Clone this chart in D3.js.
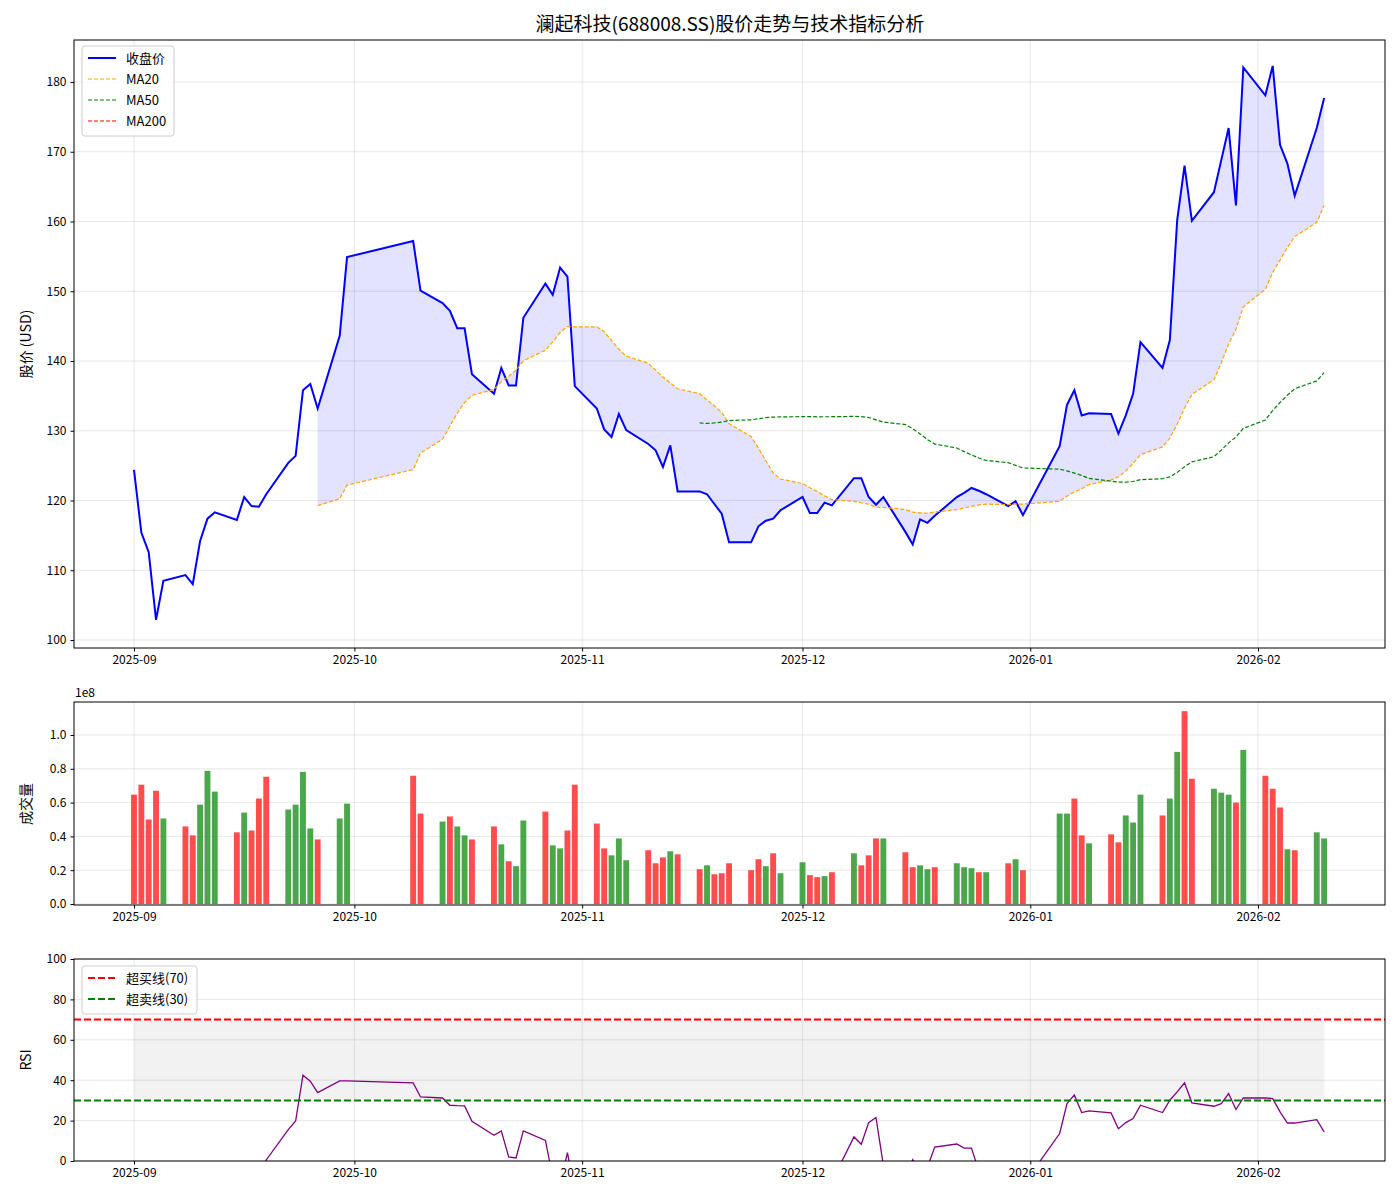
<!DOCTYPE html>
<html>
<head>
<meta charset="utf-8">
<script src="https://cdn.jsdelivr.net/npm/d3@7"></script>
<style>
  body { margin: 0; background: #fff; }
  text { font-family: "Noto Sans CJK SC", "DejaVu Sans", sans-serif; }
</style>
</head>
<body>
<svg id="chart" width="1400" height="1200"></svg>
<script>
// trading days (Sep 1 2025 - Feb 10 2026)
const dates = [
  "2025-09-01","2025-09-02","2025-09-03","2025-09-04","2025-09-05",
  "2025-09-08","2025-09-09","2025-09-10","2025-09-11","2025-09-12",
  "2025-09-15","2025-09-16","2025-09-17","2025-09-18","2025-09-19",
  "2025-09-22","2025-09-23","2025-09-24","2025-09-25","2025-09-26",
  "2025-09-29","2025-09-30",
  "2025-10-09","2025-10-10",
  "2025-10-13","2025-10-14","2025-10-15","2025-10-16","2025-10-17",
  "2025-10-20","2025-10-21","2025-10-22","2025-10-23","2025-10-24",
  "2025-10-27","2025-10-28","2025-10-29","2025-10-30","2025-10-31",
  "2025-11-03","2025-11-04","2025-11-05","2025-11-06","2025-11-07",
  "2025-11-10","2025-11-11","2025-11-12","2025-11-13","2025-11-14",
  "2025-11-17","2025-11-18","2025-11-19","2025-11-20","2025-11-21",
  "2025-11-24","2025-11-25","2025-11-26","2025-11-27","2025-11-28",
  "2025-12-01","2025-12-02","2025-12-03","2025-12-04","2025-12-05",
  "2025-12-08","2025-12-09","2025-12-10","2025-12-11","2025-12-12",
  "2025-12-15","2025-12-16","2025-12-17","2025-12-18","2025-12-19",
  "2025-12-22","2025-12-23","2025-12-24","2025-12-25","2025-12-26",
  "2025-12-29","2025-12-30","2025-12-31",
  "2026-01-05","2026-01-06","2026-01-07","2026-01-08","2026-01-09",
  "2026-01-12","2026-01-13","2026-01-14","2026-01-15","2026-01-16",
  "2026-01-19","2026-01-20","2026-01-21","2026-01-22","2026-01-23",
  "2026-01-26","2026-01-27","2026-01-28","2026-01-29","2026-01-30",
  "2026-02-02","2026-02-03","2026-02-04","2026-02-05","2026-02-06",
  "2026-02-09","2026-02-10"
];

const closes = [
  124.4,115.4,112.6,102.9,108.5,
  109.3,108.0,114.2,117.4,118.3,
  117.2,120.5,119.2,119.1,120.9,
  125.4,126.4,135.8,136.7,133.2,
  143.6,154.9,
  157.2,150.1,
  148.3,147.2,144.7,144.7,138.1,
  135.3,139.0,136.5,136.5,146.2,
  151.1,149.5,153.4,152.1,136.4,
  133.2,130.2,129.1,132.4,130.1,
  128.1,127.2,124.8,127.9,121.3,
  121.3,120.9,119.5,118.1,114.0,
  114.0,116.3,117.1,117.4,118.6,
  120.5,118.2,118.2,119.7,119.3,
  123.2,123.2,120.5,119.4,120.5,
  115.5,113.7,117.3,116.8,117.8,
  120.5,121.1,121.8,121.4,120.9,
  119.2,119.9,117.9,
  127.8,133.7,135.8,132.2,132.5,
  132.4,129.6,132.2,135.3,142.7,
  139.0,143.0,160.2,168.0,160.1,
  164.2,168.8,173.4,162.3,182.1,
  178.1,182.3,171.0,168.3,163.7,
  173.4,177.7
];

// volume in units of 1e8
const volumes = [
  0.647,0.706,0.500,0.670,0.506,
  0.459,0.406,0.588,0.788,0.665,
  0.424,0.541,0.435,0.624,0.753,
  0.559,0.588,0.782,0.447,0.382,
  0.506,0.594,
  0.759,0.535,
  0.488,0.518,0.459,0.406,0.382,
  0.459,0.353,0.253,0.224,0.494,
  0.547,0.347,0.329,0.435,0.706,
  0.476,0.329,0.288,0.388,0.259,
  0.318,0.241,0.276,0.312,0.294,
  0.206,0.229,0.176,0.182,0.241,
  0.200,0.265,0.224,0.300,0.182,
  0.247,0.171,0.159,0.165,0.188,
  0.300,0.229,0.288,0.388,0.388,
  0.306,0.218,0.229,0.206,0.218,
  0.241,0.218,0.212,0.188,0.188,
  0.241,0.265,0.200,
  0.535,0.535,0.624,0.406,0.359,
  0.412,0.365,0.524,0.482,0.647,
  0.524,0.624,0.900,1.141,0.741,
  0.682,0.659,0.647,0.600,0.912,
  0.759,0.682,0.571,0.324,0.318,
  0.424,0.388
];

// 1 = red bar, 0 = green bar
const volUp = [
  1,1,1,1,0, 1,1,0,0,0, 1,0,1,1,1, 0,0,0,0,1, 0,0,
  1,1, 0,1,0,0,1, 1,0,1,0,0, 1,0,0,1,1,
  1,1,0,0,0, 1,1,1,0,1, 1,0,1,1,1, 1,1,0,1,0,
  0,1,1,0,1, 0,1,1,1,0, 1,1,0,0,1, 0,0,0,1,0, 1,0,1,
  0,0,1,1,0, 1,1,0,0,0, 1,0,0,1,1, 0,0,0,1,0,
  1,1,1,0,1, 0,0
];

const rsi = [
  null,null,null,null,null, null,null,null,null,null,
  null,null,null,-10,0.5,
  15.5,19.8,42.5,39.5,33.9,
  39.7,39.7,
  38.7,31.7,
  31.2,27.6,27.4,27.3,19.7,
  12.7,14.9,2.0,1.5,14.9,
  10.2,-8,-12,4.1,-15,
  -20,-25,-28,-22,-26,
  -24,-27,-30,-25,-35,
  -35,-33,-36,-38,-45,
  -45,-40,-35,-30,-25,
  -18,-25,-22,-15,-10,
  11.9,8.3,19.0,21.5,-2,
  -8,0.7,-5,-3,6.9,
  8.4,6.4,6.4,-5,-12,
  -10,-6,-12,
  13.6,28.4,32.7,24.0,24.8,
  23.8,16.0,19.0,21.0,27.6,
  24.0,30.1,34.2,38.7,28.8,
  27.1,28.4,33.4,25.5,31.2,
  31.2,30.9,24.3,18.8,18.8,
  20.5,14.4
];

const priceTicks = [100, 110, 120, 130, 140, 150, 160, 170, 180];
const volTicks = [0, 0.2, 0.4, 0.6, 0.8, 1.0];
const rsiTicks = [0, 20, 40, 60, 80, 100];

const parse = d3.timeParse("%Y-%m-%d");
const rows = dates.map((d, i) => ({
  date: parse(d), close: closes[i], vol: volumes[i], up: volUp[i], rsi: rsi[i]
}));

const rolling = (n) => rows.map((r, i) =>
  i < n - 1 ? null : d3.mean(rows.slice(i - n + 1, i + 1), d => d.close));
const ma20 = rolling(20), ma50 = rolling(50);
rows.forEach((r, i) => { r.ma20 = ma20[i]; r.ma50 = ma50[i]; });

const svg = d3.select("#chart");
const L = 74, R = 1385;

const x = d3.scaleTime()
  .domain([parse("2025-09-01"), parse("2026-02-01")])
  .range([134, 1258]);
x.domain([x.invert(L), x.invert(R)]).range([L, R]);
const dayW = x(parse("2025-09-02")) - x(parse("2025-09-01"));

const panels = [
  { top: 40, bottom: 648 },
  { top: 702, bottom: 905 },
  { top: 959, bottom: 1161 }
];

const yP = d3.scaleLinear().domain([100, 180]).range([640, 82]);
yP.domain([yP.invert(648), yP.invert(40)]).range([648, 40]);
const yV = d3.scaleLinear().domain([0, 1]).range([904, 735]);
yV.domain([yV.invert(905), yV.invert(702)]).range([905, 702]);
const yR = d3.scaleLinear().domain([0, 100]).range([1161, 959]);

const xTicks = d3.timeMonth.range(parse("2025-09-01"), parse("2026-02-02"));

function frame(p, y, ticks, fmt, i) {
  const g = svg.append("g");
  g.selectAll(".gx").data(xTicks).join("line")
    .attr("x1", d => x(d)).attr("x2", d => x(d))
    .attr("y1", p.top).attr("y2", p.bottom)
    .attr("stroke", "#b0b0b0").attr("stroke-opacity", 0.3);
  g.selectAll(".gy").data(ticks).join("line")
    .attr("x1", L).attr("x2", R)
    .attr("y1", d => y(d)).attr("y2", d => y(d))
    .attr("stroke", "#b0b0b0").attr("stroke-opacity", 0.3);
  svg.append("defs").append("clipPath").attr("id", "clip" + i)
    .append("rect").attr("x", L).attr("y", p.top)
    .attr("width", R - L).attr("height", p.bottom - p.top);
}

function axes(p, y, ticks, fmt) {
  const gx = svg.append("g").attr("transform", `translate(0,${p.bottom})`)
    .call(d3.axisBottom(x).tickValues(xTicks).tickFormat(d3.timeFormat("%Y-%m")).tickSizeOuter(0).tickSize(3.5).tickPadding(4));
  const gy = svg.append("g").attr("transform", `translate(${L},0)`)
    .call(d3.axisLeft(y).tickValues(ticks).tickFormat(fmt).tickSizeOuter(0).tickSize(3.5).tickPadding(4));
  [gx, gy].forEach(g => {
    g.select(".domain").remove();
    g.selectAll("text").attr("font-size", 12).attr("fill", "#000");
  });
  svg.append("rect").attr("x", L).attr("y", p.top)
    .attr("width", R - L).attr("height", p.bottom - p.top)
    .attr("fill", "none").attr("stroke", "#000").attr("stroke-width", 1);
}

// ---- price panel
frame(panels[0], yP, priceTicks, null, 0);
const gp = svg.append("g").attr("clip-path", "url(#clip0)");
gp.append("path").datum(rows.filter(r => r.ma20 != null))
  .attr("d", d3.area().x(d => x(d.date)).y0(d => yP(d.ma20)).y1(d => yP(d.close)))
  .attr("fill", "rgba(0,0,255,0.11)");
gp.append("path").datum(rows)
  .attr("d", d3.line().x(d => x(d.date)).y(d => yP(d.close)))
  .attr("fill", "none").attr("stroke", "blue").attr("stroke-width", 2);
gp.append("path").datum(rows)
  .attr("d", d3.line().defined(d => d.ma20 != null).x(d => x(d.date)).y(d => yP(d.ma20)))
  .attr("fill", "none").attr("stroke", "orange").attr("stroke-width", 1.2).attr("stroke-dasharray", "4,2");
gp.append("path").datum(rows)
  .attr("d", d3.line().defined(d => d.ma50 != null).x(d => x(d.date)).y(d => yP(d.ma50)))
  .attr("fill", "none").attr("stroke", "green").attr("stroke-width", 1.2).attr("stroke-dasharray", "4,2");
axes(panels[0], yP, priceTicks, d3.format("d"));

// ---- volume panel
frame(panels[1], yV, volTicks, null, 1);
svg.append("g").attr("clip-path", "url(#clip1)")
  .selectAll("rect").data(rows).join("rect")
  .attr("x", d => x(d.date) - dayW * 0.4).attr("width", dayW * 0.8)
  .attr("y", d => yV(d.vol)).attr("height", d => yV(0) - yV(d.vol))
  .attr("fill", d => d.up ? "rgba(255,0,0,0.7)" : "rgba(0,128,0,0.7)");
axes(panels[1], yV, volTicks, d3.format(".1f"));
svg.append("text").attr("x", 75).attr("y", 697).attr("font-size", 12).text("1e8");

// ---- RSI panel
frame(panels[2], yR, rsiTicks, null, 2);
const gr = svg.append("g").attr("clip-path", "url(#clip2)");
gr.append("rect")
  .attr("x", x(rows[0].date)).attr("width", x(rows[rows.length - 1].date) - x(rows[0].date))
  .attr("y", yR(70)).attr("height", yR(30) - yR(70))
  .attr("fill", "rgba(128,128,128,0.1)");
gr.append("path").datum(rows)
  .attr("d", d3.line().defined(d => d.rsi != null).x(d => x(d.date)).y(d => yR(d.rsi)))
  .attr("fill", "none").attr("stroke", "purple").attr("stroke-width", 1.3);
[[70, "red"], [30, "green"]].forEach(([v, c]) => {
  gr.append("line").attr("x1", L).attr("x2", R).attr("y1", yR(v)).attr("y2", yR(v))
    .attr("stroke", c).attr("stroke-width", 2).attr("stroke-dasharray", "7,3");
});
axes(panels[2], yR, rsiTicks, d3.format("d"));

// ---- titles
svg.append("text").attr("x", 730).attr("y", 31).attr("text-anchor", "middle")
  .attr("font-size", 19).text("澜起科技(688008.SS)股价走势与技术指标分析");
[["股价 (USD)", 344], ["成交量", 804], ["RSI", 1060]].forEach(([t, cy]) => {
  svg.append("text").attr("transform", `translate(31,${cy}) rotate(-90)`)
    .attr("text-anchor", "middle").attr("font-size", 14).text(t);
});

// ---- legends
function legend(x0, y0, w, items) {
  const g = svg.append("g");
  g.append("rect").attr("x", x0).attr("y", y0).attr("width", w).attr("height", items.length * 21 + 6)
    .attr("rx", 3).attr("fill", "rgba(255,255,255,0.8)").attr("stroke", "#ccc");
  items.forEach((it, i) => {
    const cy = y0 + 12 + i * 21;
    g.append("line").attr("x1", x0 + 6).attr("x2", x0 + 34).attr("y1", cy).attr("y2", cy)
      .attr("stroke", it.c).attr("stroke-width", it.w).attr("stroke-dasharray", it.dash);
    g.append("text").attr("x", x0 + 44).attr("y", cy + 4.5).attr("font-size", 13).text(it.t);
  });
}
legend(82, 46, 92, [
  { t: "收盘价", c: "blue", w: 2, dash: null },
  { t: "MA20", c: "orange", w: 1.2, dash: "4,2" },
  { t: "MA50", c: "green", w: 1.2, dash: "4,2" },
  { t: "MA200", c: "red", w: 1.2, dash: "4,2" }
]);
legend(82, 966, 115, [
  { t: "超买线(70)", c: "red", w: 2, dash: "7,3" },
  { t: "超卖线(30)", c: "green", w: 2, dash: "7,3" }
]);
</script>
</body>
</html>
